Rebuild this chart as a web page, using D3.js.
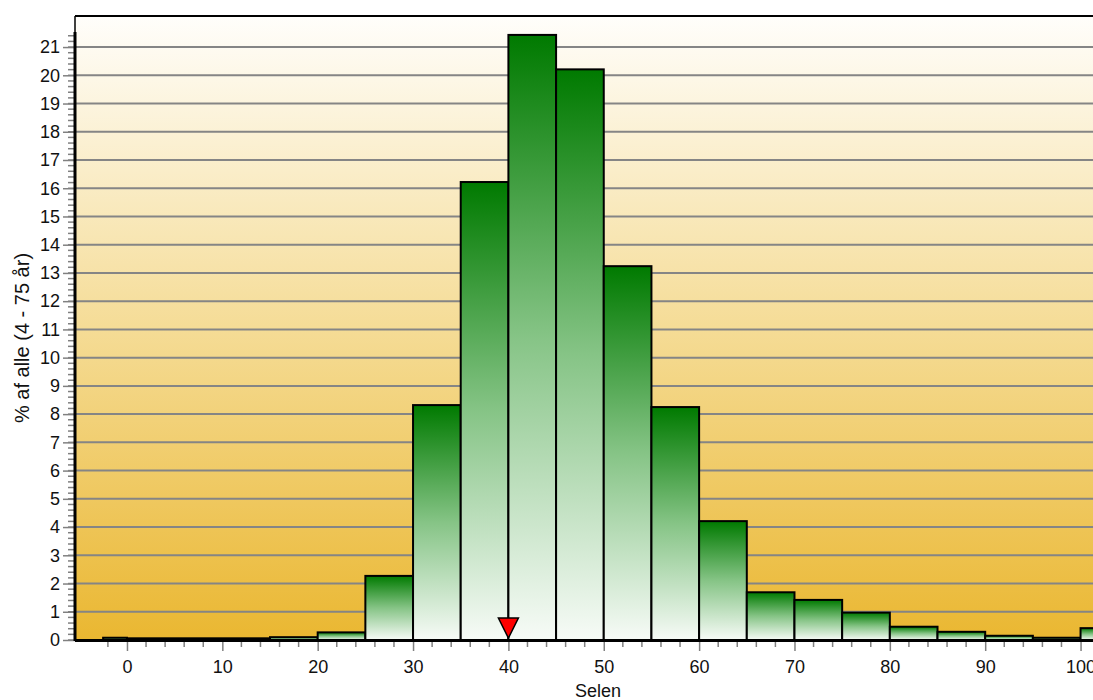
<!DOCTYPE html>
<html><head><meta charset="utf-8">
<script src="https://cdn.jsdelivr.net/npm/d3@7"></script>
<style>body{margin:0;background:#fff}svg{display:block}text{font-family:"Liberation Sans",Arial,sans-serif}</style>
</head><body><svg id="c" width="1093" height="700"></svg>
<script>
// ---- data ----
const binStart = [-2.5, 0, 15, 20, 25, 30, 35, 40, 45, 50, 55, 60, 65, 70, 75, 80, 85, 90, 95, 100];
const binEnd   = [0, 15, 20, 25, 30, 35, 40, 45, 50, 55, 60, 65, 70, 75, 80, 85, 90, 95, 100, 105];
const percent  = [0.08, 0.06, 0.1, 0.27, 2.27, 8.32, 16.22, 21.43, 20.21, 13.24, 8.25, 4.21, 1.69, 1.42, 0.97, 0.47, 0.29, 0.15, 0.08, 0.42];
const xTickValues = [0, 10, 20, 30, 40, 50, 60, 70, 80, 90, 100];
const yTickValues = [0,1,2,3,4,5,6,7,8,9,10,11,12,13,14,15,16,17,18,19,20,21];
const markerValue = 40;
const xTitle = "Selen";
const yTitle = "% af alle (4 - 75 år)";

// ---- layout ----
const W = 1093, H = 700;
const mLeft = 75, mTop = 16, mBottom = 640;
const svg = d3.select("#c");
const x = d3.scaleLinear().domain([-5.45, 105.5]).range([mLeft, 1133]);
const y = d3.scaleLinear().domain([0, 22.1]).range([mBottom, mTop]);

const defs = svg.append("defs");
const bg = defs.append("linearGradient").attr("id","bg").attr("x1",0).attr("y1",0).attr("x2",0).attr("y2",1);
bg.append("stop").attr("offset","0%").attr("stop-color","#fffefb");
bg.append("stop").attr("offset","50%").attr("stop-color","#f5dc96");
bg.append("stop").attr("offset","100%").attr("stop-color","#eab731");
const bg2 = defs.append("linearGradient").attr("id","bar").attr("x1",0).attr("y1",0).attr("x2",0).attr("y2",1);
bg2.append("stop").attr("offset","0%").attr("stop-color","#007a00");
bg2.append("stop").attr("offset","50%").attr("stop-color","#86c486");
bg2.append("stop").attr("offset","100%").attr("stop-color","#f7fbf7");

// plot background
svg.append("rect").attr("x", mLeft).attr("y", mTop).attr("width", W - mLeft).attr("height", mBottom - mTop).attr("fill","url(#bg)");

// grid lines
svg.append("g").selectAll("line").data(yTickValues.filter(d => d > 0)).join("line")
  .attr("x1", mLeft).attr("x2", W).attr("y1", d => y(d)).attr("y2", d => y(d))
  .attr("stroke","#858585").attr("stroke-width",2);

// frame
svg.append("line").attr("x1", mLeft).attr("x2", W).attr("y1", mTop).attr("y2", mTop).attr("stroke","#000").attr("stroke-width",2);
svg.append("line").attr("x1", mLeft).attr("x2", mLeft).attr("y1", mTop).attr("y2", mBottom).attr("stroke","#000").attr("stroke-width",1.5);

// bars
const bins = percent.map((v,i) => ({x0: binStart[i], x1: binEnd[i], v}));
svg.append("g").selectAll("rect").data(bins).join("rect")
  .attr("x", d => x(d.x0)).attr("width", d => x(d.x1) - x(d.x0))
  .attr("y", d => y(d.v)).attr("height", d => y(0) - y(d.v))
  .attr("fill","url(#bar)").attr("stroke","#000").attr("stroke-width",2);

// y axis
const yMax = d3.max(percent);
const yAxis = svg.append("g").attr("transform",`translate(${mLeft},0)`);
yAxis.selectAll("line.minor").data(d3.range(0, Math.floor(yMax*5)+1).map(i => i/5)).join("line")
  .attr("class","minor").attr("x1",-7).attr("x2",-1).attr("y1", d => y(d)).attr("y2", d => y(d))
  .attr("stroke","#808080").attr("stroke-width",1.5);
yAxis.call(d3.axisLeft(y).tickValues(yTickValues).tickSize(12).tickPadding(3).tickFormat(d3.format("d")));
yAxis.select(".domain").remove();
yAxis.selectAll(".tick line").attr("stroke","#808080").attr("stroke-width",1.5);
yAxis.selectAll(".tick text").attr("font-size",18).attr("fill","#111").attr("font-family",'"Liberation Sans",Arial,sans-serif');
yAxis.append("line").attr("x1",0).attr("x2",0).attr("y1", y(0)+1).attr("y2", y(yMax+0.1)).attr("stroke","#000").attr("stroke-width",3);

// x axis
const xAxis = svg.append("g").attr("transform",`translate(0,${mBottom})`);
xAxis.selectAll("line.minor").data(d3.range(-2, 106, 2).filter(d => d % 10 !== 0)).join("line")
  .attr("class","minor").attr("x1", d => x(d)).attr("x2", d => x(d)).attr("y1",2).attr("y2",7)
  .attr("stroke","#808080").attr("stroke-width",1.5);
xAxis.call(d3.axisBottom(x).tickValues(xTickValues).tickSize(11).tickPadding(9).tickFormat(d3.format("d")));
xAxis.select(".domain").remove();
xAxis.selectAll(".tick line").attr("stroke","#808080").attr("stroke-width",1.5);
xAxis.selectAll(".tick text").attr("font-size",18).attr("fill","#111").attr("font-family",'"Liberation Sans",Arial,sans-serif');
xAxis.append("line").attr("x1", mLeft).attr("x2", W).attr("y1",0.5).attr("y2",0.5).attr("stroke","#000").attr("stroke-width",3);

// marker
const mx = x(markerValue);
svg.append("path")
  .attr("d", `M${mx-10},${mBottom-22} L${mx+10},${mBottom-22} L${mx},${mBottom-2} Z`)
  .attr("fill","#ff0000").attr("stroke","#000").attr("stroke-width",1.5);

// titles
svg.append("text").attr("x", 598).attr("y", 697).attr("text-anchor","middle").attr("font-size",18).attr("fill","#111").text(xTitle);
svg.append("text").attr("transform","translate(29,338) rotate(-90)").attr("text-anchor","middle").attr("font-size",20).attr("fill","#111").text(yTitle);
</script></body></html>
